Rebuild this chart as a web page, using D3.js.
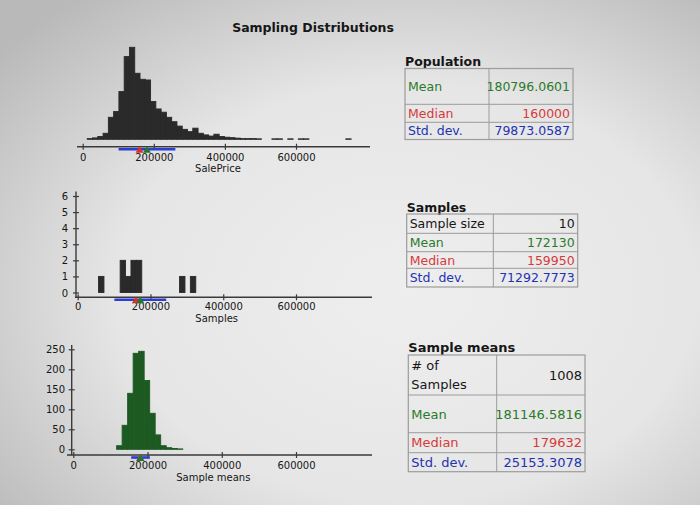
<!DOCTYPE html>
<html>
<head>
<meta charset="utf-8">
<script src="https://cdn.jsdelivr.net/npm/d3@7"></script>
<style>
  html, body { margin: 0; padding: 0; background: #d8d8d8; }
  svg { display: block; }
  text { font-family: "DejaVu Sans", Verdana, sans-serif; }
</style>
</head>
<body>
<svg id="chart" width="700" height="505"></svg>
<script>
// ---------------- DATA ----------------
const chartTitle = "Sampling Distributions";
const popMin = 12789, popMax = 755000, binCount = 50;
// population histogram counts (SalePrice), 50 equal bins between popMin and popMax
const popCounts = [3, 6, 12, 26, 95, 120, 206, 357, 397, 285,
                   259, 256, 163, 131, 117, 95, 76, 57, 43, 33,
                   48, 26, 19, 14, 22, 12, 9, 7, 5, 3,
                   3, 3, 2, 0, 0, 2, 2, 0, 2, 0,
                   2, 2, 0, 0, 0, 0, 0, 0, 0, 2];
// one sample of size 10 : bin index -> count
const sampleBins   = [3, 7, 8, 9, 10, 18, 20];
const sampleCounts = [1, 2, 1, 2, 2, 1, 1];
// sample means histogram : bin index -> count
const meansBins   = [7, 8, 9, 10, 11, 12, 13, 14, 15, 16, 17, 18];
const meansCounts = [9, 60, 140, 240, 245, 172, 90, 36, 9, 4, 2, 1];

const xTicks = [0, 200000, 400000, 600000];
const sampleYTicks = [0, 1, 2, 3, 4, 5, 6];
const meansYTicks = [0, 50, 100, 150, 200, 250];
const axisLabels = ["SalePrice", "Samples", "Sample means"];

const popStats    = {mean: 180796.0601, median: 160000, sd: 79873.0587};
const sampleStats = {size: 10, mean: 172130, median: 159950, sd: 71292.7773};
const meansStats  = {n: 1008, mean: 181146.5816, median: 179632, sd: 25153.3078};

const popValueText    = ["180796.0601", "160000", "79873.0587"];
const sampleValueText = ["10", "172130", "159950", "71292.7773"];
const meansValueText  = ["1008", "181146.5816", "179632", "25153.3078"];
const tableTitles = ["Population", "Samples", "Sample means"];

// ---------------- STYLE ----------------
const C = { green: "#2b7a2b", red: "#d63a3a", blue: "#2333b0",
            triRed: "#e0302a", triGreen: "#1f7a2a", sdBlue: "#2a3ed6",
            bar: "#2a2a2a", meanBar: "#1d5a22", axis: "#3a3a3a", text: "#161616",
            border: "#9c9c9c" };

const svg = d3.select("#chart");

// background like a photographed screen
const defs = svg.append("defs");
const rg = defs.append("radialGradient").attr("id", "bg")
  .attr("cx", "58%").attr("cy", "58%").attr("r", "75%");
rg.append("stop").attr("offset", "0%").attr("stop-color", "#eeeeee");
rg.append("stop").attr("offset", "55%").attr("stop-color", "#e6e6e6");
rg.append("stop").attr("offset", "100%").attr("stop-color", "#b9b9b9");
svg.append("rect").attr("width", 700).attr("height", 505).attr("fill", "url(#bg)");

svg.append("text").attr("x", 313).attr("y", 32).attr("text-anchor", "middle")
  .attr("font-size", 12.5).attr("font-weight", "bold").attr("fill", C.text)
  .text(chartTitle);

const edges = d3.range(binCount + 1).map(i => popMin + i * (popMax - popMin) / binCount);

const charts = [
  { x0: 82.7, x600: 296, axisL: 77, axisR: 370, axisY: 146.7, base: 139.3,
    yDomain: [0, 400], yTop: 139.3 - 400 * 0.2317, yAxis: null,
    bins: d3.range(binCount), counts: popCounts, fill: C.bar,
    stats: popStats, label: axisLabels[0], labelX: 218, tickY: 161, labelY: 171.5 },
  { x0: 77.7, x600: 296, axisL: 75, axisR: 372, axisY: 297.3, base: 292.5,
    yDomain: [0, 6], yTop: 196, yAxis: {x: 76, top: 191.5, ticks: sampleYTicks, labelX: 68},
    bins: sampleBins, counts: sampleCounts, fill: C.bar,
    stats: sampleStats, label: axisLabels[1], labelX: 216.7, tickY: 310.5, labelY: 322 },
  { x0: 73.3, x600: 296, axisL: 67, axisR: 372, axisY: 455, base: 449.3,
    yDomain: [0, 250], yTop: 349.3, yAxis: {x: 71.7, top: 345, ticks: meansYTicks, labelX: 65},
    bins: meansBins, counts: meansCounts, fill: C.meanBar,
    stats: meansStats, label: axisLabels[2], labelX: 213.3, tickY: 469, labelY: 480.5 }
];

charts.forEach(c => {
  const g = svg.append("g");
  const x = d3.scaleLinear().domain([0, 600000]).range([c.x0, c.x600]);
  const y = d3.scaleLinear().domain(c.yDomain).range([c.base, c.yTop]);

  // bars
  g.selectAll("rect.bar").data(c.bins.map((b, i) => ({b, n: c.counts[i]})).filter(d => d.n > 0))
    .enter().append("rect").attr("class", "bar")
    .attr("x", d => x(edges[d.b]))
    .attr("width", d => x(edges[d.b + 1]) - x(edges[d.b]))
    .attr("y", d => y(d.n))
    .attr("height", d => y(0) - y(d.n))
    .attr("fill", c.fill).attr("stroke", c.fill).attr("stroke-width", 0.9);

  // x axis
  g.append("line").attr("x1", c.axisL).attr("x2", c.axisR)
    .attr("y1", c.axisY).attr("y2", c.axisY)
    .attr("stroke", C.axis).attr("stroke-width", 1.6);
  const xa = g.append("g").attr("transform", `translate(0,${c.axisY})`)
    .call(d3.axisBottom(x).tickValues(xTicks).tickFormat(d3.format("d")).tickSize(3).tickPadding(0));
  xa.select(".domain").remove();
  xa.selectAll(".tick line").attr("y1", -3).attr("stroke", C.axis).attr("stroke-width", 1.2);
  xa.selectAll(".tick text").attr("y", c.tickY - c.axisY).attr("dy", 0)
    .attr("font-size", 10).attr("font-family", "DejaVu Sans").attr("fill", C.text);

  // y axis
  if (c.yAxis) {
    const ya = c.yAxis;
    g.append("line").attr("x1", ya.x).attr("x2", ya.x).attr("y1", ya.top).attr("y2", c.axisY)
      .attr("stroke", C.axis).attr("stroke-width", 1.4);
    const yg = g.append("g").attr("transform", `translate(${ya.x},0)`)
      .call(d3.axisLeft(y).tickValues(ya.ticks).tickFormat(d3.format("d")).tickSize(3).tickPadding(0));
    yg.select(".domain").remove();
    yg.selectAll(".tick line").attr("x1", 3).attr("stroke", C.axis).attr("stroke-width", 1.2);
    yg.selectAll(".tick text").attr("x", ya.labelX - ya.x).attr("dy", "0.35em")
      .attr("font-size", 10).attr("font-family", "DejaVu Sans").attr("fill", C.text);
  }

  // mean ± sd line, median & mean markers
  const s = c.stats;
  g.append("line").attr("x1", x(s.mean - s.sd)).attr("x2", x(s.mean + s.sd))
    .attr("y1", c.axisY + 2.5).attr("y2", c.axisY + 2.5)
    .attr("stroke", C.sdBlue).attr("stroke-width", 2.6);
  const tri = (v, col) => g.append("path")
    .attr("d", `M${x(v)},${c.axisY - 0.5} l4,6.5 l-8,0 Z`).attr("fill", col);
  tri(s.median, C.triRed);
  tri(s.mean, C.triGreen);

  g.append("text").attr("x", c.labelX).attr("y", c.labelY).attr("text-anchor", "middle")
    .attr("font-size", 10).attr("fill", C.text).text(c.label);
});

// ---------------- TABLES ----------------
function table(t) {
  const g = svg.append("g");
  g.append("text").attr("x", t.left).attr("y", t.titleY).attr("font-size", t.fs)
    .attr("font-weight", "bold").attr("fill", C.text).text(t.title);
  const rows = t.rows;
  g.append("rect").attr("x", t.left).attr("y", rows[0]).attr("width", t.right - t.left)
    .attr("height", rows[rows.length - 1] - rows[0])
    .attr("fill", "none").attr("stroke", C.border).attr("stroke-width", 1.2);
  rows.slice(1, -1).forEach(r => g.append("line").attr("x1", t.left).attr("x2", t.right)
    .attr("y1", r).attr("y2", r).attr("stroke", C.border).attr("stroke-width", 1));
  g.append("line").attr("x1", t.split).attr("x2", t.split).attr("y1", rows[0]).attr("y2", rows[rows.length - 1])
    .attr("stroke", C.border).attr("stroke-width", 1);
  t.cells.forEach((cell, i) => {
    const mid = (rows[i] + rows[i + 1]) / 2;
    const lines = cell.label.split("\n");
    lines.forEach((ln, j) => {
      g.append("text").attr("x", t.left + 3)
        .attr("y", mid + (j - (lines.length - 1) / 2) * t.fs * 1.45).attr("dy", "0.36em")
        .attr("font-size", t.fs).attr("fill", cell.color).text(ln);
    });
    g.append("text").attr("x", t.right - 3).attr("y", mid).attr("dy", "0.36em")
      .attr("text-anchor", "end").attr("font-size", t.fs).attr("fill", cell.color).text(cell.value);
  });
}

table({ title: tableTitles[0], left: 405, right: 573, split: 489, titleY: 66, fs: 12.5,
  rows: [68.5, 104.3, 122.3, 139.5],
  cells: [{label: "Mean", value: popValueText[0], color: C.green},
          {label: "Median", value: popValueText[1], color: C.red},
          {label: "Std. dev.", value: popValueText[2], color: C.blue}] });

table({ title: tableTitles[1], left: 406.7, right: 577.7, split: 493.3, titleY: 211.5, fs: 12.5,
  rows: [214, 233.3, 251.7, 268.3, 287],
  cells: [{label: "Sample size", value: sampleValueText[0], color: C.text},
          {label: "Mean", value: sampleValueText[1], color: C.green},
          {label: "Median", value: sampleValueText[2], color: C.red},
          {label: "Std. dev.", value: sampleValueText[3], color: C.blue}] });

table({ title: tableTitles[2], left: 408.3, right: 585, split: 496.7, titleY: 352, fs: 13,
  rows: [355, 395, 432.7, 452.7, 471.7],
  cells: [{label: "# of\nSamples", value: meansValueText[0], color: C.text},
          {label: "Mean", value: meansValueText[1], color: C.green},
          {label: "Median", value: meansValueText[2], color: C.red},
          {label: "Std. dev.", value: meansValueText[3], color: C.blue}] });
</script>
</body>
</html>
